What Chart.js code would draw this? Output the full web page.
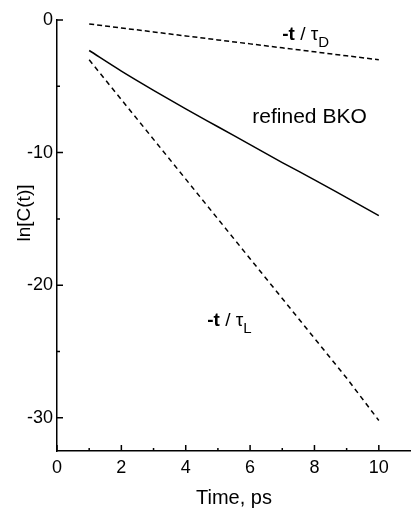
<!DOCTYPE html>
<html lang="en">
<head>
    <meta charset="UTF-8">
    <title>ln[C(t)] vs time</title>
    <script src="https://cdnjs.cloudflare.com/ajax/libs/Chart.js/4.4.1/chart.umd.min.js"></script>
    <style>
        body {
            margin: 0;
            padding: 0;
            background: #fff;
        }

        .chart-container {
            position: relative;
            width: 411px;
            height: 510px;
        }
    </style>
</head>
<body>
<div class="chart-container">
    <canvas id="decayChart"></canvas>
</div>

<script>
    // values
    const times = [1, 2, 3, 4, 5, 6, 7, 8, 9, 10];
    const tauD = [-0.3, -0.6, -0.9, -1.2, -1.5, -1.8, -2.1, -2.4, -2.7, -3.0];
    const refinedBKO = [-2.3, -3.85, -5.3, -6.7, -8.05, -9.4, -10.75, -12.05, -13.4, -14.75];
    const tauL = [-3.0, -6.0, -9.0, -12.0, -15.0, -18.0, -21.0, -24.0, -27.0, -30.2];

    const xTicks = [0, 2, 4, 6, 8, 10];
    const xMinorTicks = [1, 3, 5, 7, 9];
    const yTicks = [-30, -20, -10, 0];
    const yMinorTicks = [-25, -15, -5];

    const FONT = "'Liberation Sans', Arial, sans-serif";

    function pts(ys) {
        return times.map((t, i) => ({ x: t, y: ys[i] }));
    }

    // ticks inward, annotations and axis titles
    const extras = {
        id: 'extras',
        afterDraw(chart) {
            const { ctx, scales: { x, y } } = chart;
            const left = x.left, bottom = y.bottom;
            ctx.save();
            ctx.strokeStyle = '#000';
            ctx.lineWidth = 1.5;
            ctx.beginPath();
            xTicks.forEach(v => { const p = x.getPixelForValue(v); ctx.moveTo(p, bottom); ctx.lineTo(p, bottom - 6); });
            xMinorTicks.forEach(v => { const p = x.getPixelForValue(v); ctx.moveTo(p, bottom); ctx.lineTo(p, bottom - 3); });
            yTicks.forEach(v => { const p = y.getPixelForValue(v); ctx.moveTo(left, p); ctx.lineTo(left + 6, p); });
            yMinorTicks.forEach(v => { const p = y.getPixelForValue(v); ctx.moveTo(left, p); ctx.lineTo(left + 3, p); });
            ctx.stroke();

            ctx.fillStyle = '#000';
            ctx.textBaseline = 'alphabetic';

            function tauLabel(tx, ty, sub) {
                let px = x.getPixelForValue(tx);
                const py = y.getPixelForValue(ty);
                ctx.textAlign = 'left';
                ctx.font = 'bold 19px ' + FONT;
                ctx.fillText('-t', px, py);
                px += ctx.measureText('-t').width;
                ctx.font = '19px ' + FONT;
                ctx.fillText(' / \u03c4', px, py);
                px += ctx.measureText(' / \u03c4').width;
                ctx.font = '15px ' + FONT;
                ctx.fillText(sub, px, py + 7);
            }
            tauLabel(7.0, -1.5, 'D');
            tauLabel(4.67, -23.1, 'L');

            ctx.font = '21px ' + FONT;
            ctx.textAlign = 'left';
            ctx.fillText('refined BKO', x.getPixelForValue(6.07), y.getPixelForValue(-7.76));

            ctx.font = '20px ' + FONT;
            ctx.textAlign = 'center';
            ctx.fillText('Time, ps', 234, 504);

            ctx.font = '19px ' + FONT;
            ctx.translate(30, 213);
            ctx.rotate(-Math.PI / 2);
            ctx.fillText('ln[C(t)]', 0, 0);
            ctx.restore();
        }
    };

    const ctx = document.getElementById('decayChart').getContext('2d');
    new Chart(ctx, {
        type: 'scatter',
        data: {
            datasets: [
                {
                    label: '-t / tauD',
                    data: pts(tauD),
                    showLine: true,
                    borderColor: '#000',
                    borderWidth: 1.5,
                    borderDash: [5, 3],
                    pointRadius: 0
                },
                {
                    label: 'refined BKO',
                    data: pts(refinedBKO),
                    showLine: true,
                    borderColor: '#000',
                    borderWidth: 1.5,
                    cubicInterpolationMode: 'monotone',
                    pointRadius: 0
                },
                {
                    label: '-t / tauL',
                    data: pts(tauL),
                    showLine: true,
                    borderColor: '#000',
                    borderWidth: 1.5,
                    borderDash: [5, 4],
                    pointRadius: 0
                }
            ]
        },
        options: {
            responsive: true,
            maintainAspectRatio: false,
            animation: false,
            layout: { padding: { top: 20, right: 0, left: 0, bottom: 0 } },
            plugins: {
                legend: { display: false },
                tooltip: { enabled: false }
            },
            scales: {
                x: {
                    type: 'linear',
                    min: 0,
                    max: 11,
                    grid: { display: false, drawTicks: false },
                    border: { color: '#000', width: 1.5 },
                    afterBuildTicks: s => { s.ticks = xTicks.map(v => ({ value: v })); },
                    afterFit: s => { s.height = 59; },
                    ticks: {
                        color: '#000',
                        padding: 6,
                        font: { family: FONT, size: 18 }
                    }
                },
                y: {
                    type: 'linear',
                    min: -32.5,
                    max: 0,
                    grid: { display: false, drawTicks: false },
                    border: { color: '#000', width: 1.5 },
                    afterBuildTicks: s => { s.ticks = yTicks.map(v => ({ value: v })); },
                    afterFit: s => { s.width = 57; },
                    ticks: {
                        color: '#000',
                        padding: 4,
                        font: { family: FONT, size: 18 }
                    }
                }
            }
        },
        plugins: [extras]
    });
</script>
</body>
</html>
